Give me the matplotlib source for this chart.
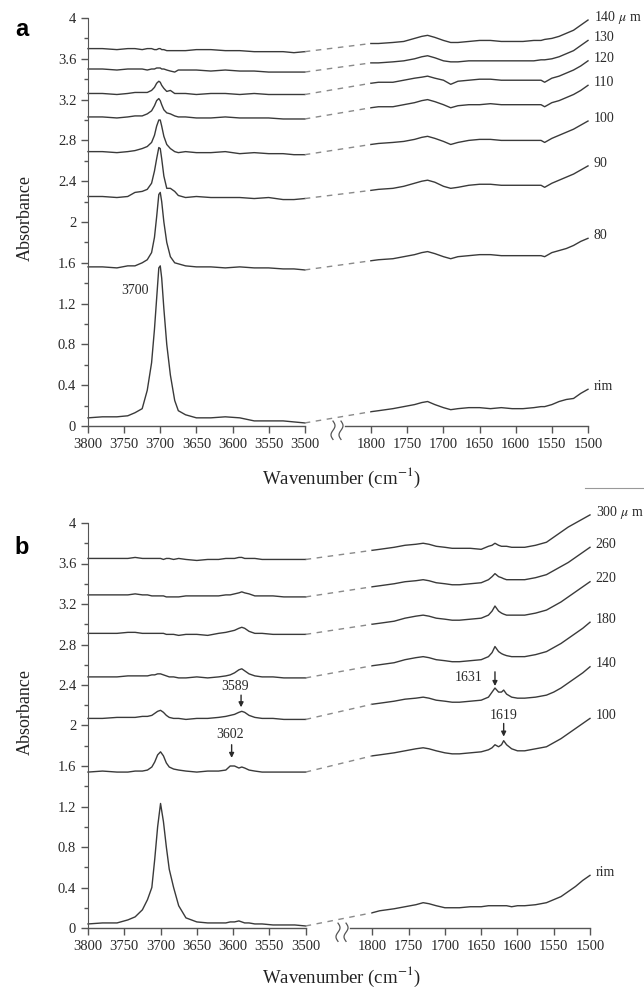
import matplotlib
matplotlib.use('Agg')
import matplotlib.pyplot as plt
from matplotlib.ticker import FixedLocator, MultipleLocator, FuncFormatter
import numpy as np

plt.rcParams['font.family'] = ['Liberation Serif', 'DejaVu Serif']
plt.rcParams['mathtext.fontset'] = 'stix'

# ---------------- panel a data ----------------
wn_left_a = [3800, 3780, 3760, 3745, 3735, 3725, 3718, 3712, 3708, 3705, 3702, 3700, 3698, 3695,
             3691, 3686, 3680, 3675, 3665, 3650, 3630, 3610, 3590, 3570, 3550, 3530, 3515, 3500]
wn_right_a = [1810, 1790, 1770, 1755, 1740, 1730, 1722, 1712, 1700, 1690, 1680, 1665, 1650,
              1635, 1620, 1605, 1590, 1575, 1565, 1560, 1550, 1540, 1530, 1520, 1510, 1500]
labels_a = ['rim', '80', '90', '100', '110', '120', '130', '140 $\\mu$ m']

rim_a_l = [0.08, 0.09, 0.09, 0.10, 0.13, 0.17, 0.35, 0.62, 0.95, 1.25, 1.55, 1.57, 1.45, 1.15,
           0.80, 0.50, 0.25, 0.15, 0.11, 0.08, 0.08, 0.09, 0.08, 0.05, 0.05, 0.05, 0.04, 0.03]
a80_l = [1.56, 1.56, 1.55, 1.57, 1.57, 1.60, 1.63, 1.70, 1.85, 2.05, 2.27, 2.29, 2.20, 2.00,
         1.80, 1.66, 1.60, 1.59, 1.57, 1.56, 1.56, 1.55, 1.56, 1.55, 1.55, 1.54, 1.54, 1.53]
a90_l = [2.25, 2.25, 2.24, 2.25, 2.29, 2.30, 2.32, 2.38, 2.50, 2.62, 2.73, 2.72, 2.62, 2.45,
         2.33, 2.33, 2.30, 2.26, 2.24, 2.25, 2.24, 2.24, 2.24, 2.23, 2.24, 2.22, 2.22, 2.23]
a100_l = [2.69, 2.69, 2.68, 2.69, 2.70, 2.72, 2.74, 2.78, 2.85, 2.94, 3.00, 3.00, 2.94, 2.84,
          2.76, 2.72, 2.69, 2.68, 2.69, 2.68, 2.68, 2.69, 2.67, 2.68, 2.67, 2.67, 2.66, 2.66]
a110_l = [3.03, 3.03, 3.02, 3.03, 3.04, 3.04, 3.06, 3.09, 3.14, 3.19, 3.21, 3.19, 3.15, 3.10,
          3.07, 3.06, 3.04, 3.03, 3.03, 3.02, 3.02, 3.03, 3.02, 3.02, 3.02, 3.01, 3.01, 3.01]
a120_l = [3.26, 3.26, 3.25, 3.26, 3.27, 3.27, 3.27, 3.29, 3.32, 3.36, 3.38, 3.37, 3.34, 3.31,
          3.28, 3.29, 3.26, 3.26, 3.26, 3.25, 3.26, 3.26, 3.25, 3.26, 3.25, 3.25, 3.25, 3.25]
a130_l = [3.50, 3.50, 3.49, 3.50, 3.50, 3.50, 3.49, 3.50, 3.50, 3.51, 3.51, 3.51, 3.50, 3.50,
          3.49, 3.48, 3.47, 3.49, 3.49, 3.49, 3.48, 3.49, 3.48, 3.48, 3.47, 3.47, 3.47, 3.47]
a140_l = [3.70, 3.70, 3.69, 3.70, 3.70, 3.69, 3.70, 3.70, 3.69, 3.69, 3.70, 3.70, 3.69, 3.69,
          3.68, 3.68, 3.68, 3.68, 3.68, 3.69, 3.69, 3.68, 3.68, 3.67, 3.67, 3.67, 3.66, 3.67]

rim_a_r = [0.14, 0.15, 0.17, 0.19, 0.21, 0.23, 0.24, 0.21, 0.18, 0.16, 0.17, 0.18, 0.18,
           0.17, 0.18, 0.17, 0.17, 0.18, 0.19, 0.19, 0.21, 0.24, 0.26, 0.27, 0.32, 0.36]
a80_r = [1.62, 1.63, 1.64, 1.66, 1.68, 1.70, 1.71, 1.69, 1.66, 1.64, 1.66, 1.67, 1.68,
         1.68, 1.67, 1.67, 1.67, 1.67, 1.67, 1.66, 1.70, 1.72, 1.74, 1.77, 1.81, 1.84]
a90_r = [2.31, 2.32, 2.33, 2.35, 2.38, 2.40, 2.41, 2.39, 2.35, 2.33, 2.34, 2.36, 2.37,
         2.37, 2.36, 2.36, 2.36, 2.36, 2.36, 2.34, 2.38, 2.41, 2.44, 2.47, 2.51, 2.55]
a100_r = [2.76, 2.77, 2.78, 2.79, 2.81, 2.83, 2.84, 2.82, 2.79, 2.76, 2.78, 2.80, 2.81,
          2.81, 2.80, 2.80, 2.80, 2.80, 2.80, 2.78, 2.82, 2.85, 2.88, 2.91, 2.95, 2.99]
a110_r = [3.12, 3.13, 3.13, 3.15, 3.17, 3.19, 3.20, 3.18, 3.15, 3.12, 3.14, 3.15, 3.15,
          3.16, 3.15, 3.15, 3.15, 3.15, 3.15, 3.13, 3.17, 3.19, 3.22, 3.25, 3.29, 3.34]
a120_r = [3.36, 3.37, 3.37, 3.39, 3.41, 3.42, 3.43, 3.41, 3.39, 3.35, 3.38, 3.39, 3.40,
          3.40, 3.39, 3.39, 3.39, 3.39, 3.39, 3.37, 3.41, 3.43, 3.46, 3.49, 3.53, 3.58]
a130_r = [3.56, 3.56, 3.57, 3.58, 3.60, 3.62, 3.63, 3.61, 3.58, 3.57, 3.57, 3.58, 3.58,
          3.58, 3.58, 3.58, 3.58, 3.58, 3.59, 3.59, 3.60, 3.62, 3.65, 3.68, 3.73, 3.78]
a140_r = [3.75, 3.75, 3.76, 3.77, 3.80, 3.82, 3.83, 3.81, 3.78, 3.76, 3.76, 3.77, 3.78,
          3.78, 3.77, 3.77, 3.77, 3.78, 3.78, 3.79, 3.80, 3.82, 3.85, 3.88, 3.93, 3.98]

# ---------------- panel b data ----------------
wn_left_b = [3800, 3780, 3760, 3745, 3735, 3725, 3718, 3712, 3708, 3704, 3700, 3696, 3692, 3688,
             3682, 3675, 3665, 3650, 3635, 3620, 3610, 3604, 3598, 3592, 3588, 3584, 3578, 3570,
             3560, 3545, 3530, 3515, 3500]
wn_right_b = [1808, 1790, 1770, 1755, 1740, 1730, 1722, 1712, 1700, 1690, 1680, 1665, 1650, 1640,
              1635, 1631, 1626, 1622, 1619, 1615, 1608, 1600, 1590, 1575, 1560, 1550, 1540, 1530,
              1520, 1510, 1500]
labels_b = ['rim', '100', '140', '180', '220', '260', '300 $\\mu$ m']

rim_b_l = [0.04, 0.05, 0.05, 0.08, 0.11, 0.18, 0.28, 0.40, 0.68, 1.00, 1.23, 1.05, 0.80, 0.58,
           0.40, 0.22, 0.10, 0.06, 0.05, 0.05, 0.05, 0.06, 0.06, 0.07, 0.06, 0.05, 0.05, 0.04,
           0.04, 0.03, 0.03, 0.03, 0.02]
b100_l = [1.54, 1.55, 1.54, 1.54, 1.55, 1.55, 1.56, 1.59, 1.64, 1.71, 1.74, 1.70, 1.63, 1.59,
          1.57, 1.56, 1.55, 1.54, 1.55, 1.55, 1.56, 1.60, 1.60, 1.58, 1.59, 1.58, 1.56, 1.55,
          1.54, 1.54, 1.54, 1.54, 1.54]
b140_l = [2.07, 2.07, 2.08, 2.08, 2.08, 2.09, 2.09, 2.10, 2.12, 2.14, 2.15, 2.13, 2.10, 2.08,
          2.07, 2.07, 2.06, 2.07, 2.07, 2.08, 2.09, 2.10, 2.11, 2.13, 2.14, 2.13, 2.10, 2.08,
          2.07, 2.07, 2.06, 2.06, 2.06]
b180_l = [2.48, 2.48, 2.48, 2.49, 2.49, 2.49, 2.49, 2.50, 2.50, 2.51, 2.51, 2.50, 2.49, 2.48,
          2.48, 2.47, 2.47, 2.48, 2.47, 2.48, 2.49, 2.50, 2.52, 2.55, 2.56, 2.54, 2.51, 2.49,
          2.48, 2.48, 2.47, 2.47, 2.47]
b220_l = [2.91, 2.91, 2.91, 2.92, 2.92, 2.91, 2.91, 2.91, 2.91, 2.91, 2.91, 2.91, 2.90, 2.90,
          2.90, 2.89, 2.90, 2.90, 2.89, 2.91, 2.92, 2.93, 2.94, 2.96, 2.97, 2.96, 2.93, 2.91,
          2.91, 2.90, 2.90, 2.90, 2.90]
b260_l = [3.29, 3.29, 3.29, 3.29, 3.30, 3.29, 3.29, 3.28, 3.28, 3.28, 3.28, 3.28, 3.27, 3.27,
          3.27, 3.27, 3.28, 3.28, 3.28, 3.28, 3.29, 3.29, 3.30, 3.31, 3.32, 3.31, 3.30, 3.28,
          3.28, 3.28, 3.27, 3.27, 3.27]
b300_l = [3.65, 3.65, 3.65, 3.65, 3.66, 3.65, 3.65, 3.65, 3.65, 3.65, 3.65, 3.64, 3.65, 3.65,
          3.64, 3.65, 3.64, 3.63, 3.64, 3.64, 3.65, 3.65, 3.65, 3.66, 3.66, 3.65, 3.65, 3.65,
          3.64, 3.64, 3.64, 3.64, 3.64]

rim_b_r = [0.15, 0.17, 0.19, 0.21, 0.23, 0.25, 0.24, 0.22, 0.20, 0.20, 0.20, 0.21, 0.21, 0.22,
           0.22, 0.22, 0.22, 0.22, 0.22, 0.22, 0.21, 0.22, 0.22, 0.23, 0.25, 0.28, 0.31, 0.36,
           0.41, 0.47, 0.52]
b100_r = [1.70, 1.71, 1.73, 1.75, 1.77, 1.78, 1.77, 1.75, 1.73, 1.72, 1.72, 1.73, 1.74, 1.76,
          1.78, 1.81, 1.79, 1.81, 1.85, 1.81, 1.77, 1.75, 1.75, 1.77, 1.79, 1.83, 1.87, 1.92,
          1.97, 2.02, 2.07]
b140_r = [2.21, 2.22, 2.24, 2.26, 2.27, 2.28, 2.27, 2.25, 2.24, 2.23, 2.23, 2.24, 2.25, 2.28,
          2.33, 2.37, 2.33, 2.33, 2.35, 2.31, 2.28, 2.27, 2.27, 2.28, 2.30, 2.33, 2.37, 2.42,
          2.47, 2.52, 2.58]
b180_r = [2.59, 2.60, 2.62, 2.65, 2.67, 2.68, 2.67, 2.65, 2.64, 2.63, 2.63, 2.64, 2.65, 2.68,
          2.72, 2.78, 2.73, 2.71, 2.70, 2.69, 2.68, 2.68, 2.68, 2.70, 2.73, 2.77, 2.81, 2.86,
          2.91, 2.96, 3.02]
b220_r = [3.00, 3.01, 3.03, 3.06, 3.08, 3.09, 3.08, 3.06, 3.05, 3.04, 3.04, 3.05, 3.06, 3.09,
          3.13, 3.18, 3.13, 3.11, 3.10, 3.09, 3.09, 3.09, 3.09, 3.11, 3.14, 3.18, 3.22, 3.27,
          3.32, 3.37, 3.42]
b260_r = [3.37, 3.38, 3.40, 3.42, 3.43, 3.44, 3.43, 3.41, 3.40, 3.39, 3.39, 3.40, 3.41, 3.44,
          3.47, 3.50, 3.47, 3.46, 3.45, 3.44, 3.44, 3.44, 3.44, 3.46, 3.49, 3.53, 3.57, 3.61,
          3.66, 3.71, 3.76]
b300_r = [3.73, 3.74, 3.76, 3.78, 3.79, 3.80, 3.79, 3.77, 3.76, 3.75, 3.75, 3.75, 3.74, 3.77,
          3.78, 3.80, 3.78, 3.77, 3.77, 3.77, 3.76, 3.76, 3.76, 3.78, 3.81, 3.86, 3.91, 3.96,
          4.00, 4.04, 4.08]

xticks = [3800, 3750, 3700, 3650, 3600, 3550, 3500, 1800, 1750, 1700, 1650, 1600, 1550, 1500]

LINE = '#3a3a3a'
DASH = '#8a8a8a'
AXC = '#555555'

# broken wavenumber axis: 3800-3500 | gap | 1800-1500
GAP = 92.0


def fwd(w):
    w = np.asarray(w, dtype=float)
    return np.where(w <= 1800, w - 1500,
                    np.where(w >= 3500, 300 + GAP + (w - 3500),
                             300 + (w - 1800) / 1700 * GAP))


def inv(u):
    u = np.asarray(u, dtype=float)
    return np.where(u <= 300, u + 1500,
                    np.where(u >= 300 + GAP, u - 300 - GAP + 3500,
                             1800 + (u - 300) / GAP * 1700))


def setup(ax, right_start):
    ax.set_xscale('function', functions=(fwd, inv))
    ax.set_xlim(3800, 1500)
    ax.set_ylim(0, 4)
    for s in ['top', 'right', 'bottom']:
        ax.spines[s].set_visible(False)
    ax.spines['left'].set_color(AXC)
    ax.xaxis.set_major_locator(FixedLocator(xticks))
    ax.xaxis.set_major_formatter(FuncFormatter(lambda v, p: '%d' % round(v)))
    ax.xaxis.set_minor_locator(FixedLocator([]))
    ax.yaxis.set_major_locator(MultipleLocator(0.4))
    ax.yaxis.set_minor_locator(MultipleLocator(0.2))
    ax.yaxis.set_major_formatter(FuncFormatter(lambda v, p: '%g' % round(v, 1)))
    ax.tick_params(direction='out', length=5, width=1, color=AXC, labelsize=10.5,
                   labelcolor='#2a2a2a')
    ax.tick_params(which='minor', length=3, width=1, color=AXC)
    # bottom axis pieces and the break mark
    x3500 = (fwd(3800) - fwd(3500)) / fwd(3800)
    ax.plot([0, x3500], [0, 0], transform=ax.transAxes, color=AXC, lw=1, clip_on=False)
    ax.plot([right_start, 1], [0, 0], transform=ax.transAxes, color=AXC, lw=1, clip_on=False)
    t = np.linspace(0, 1, 40)
    for x0 in [right_start - 0.024, right_start - 0.008]:
        ax.plot(x0 + 0.004 * np.sin(2 * np.pi * t), 0.012 - 0.045 * t,
                transform=ax.transAxes, color=AXC, lw=0.9, clip_on=False)


def draw(ax, wl, wr, lefts, rights, labels):
    for yl, yr, lab in zip(lefts, rights, labels):
        ax.plot(wl, yl, color=LINE, lw=1.0, clip_on=False)
        ax.plot(wr, yr, color=LINE, lw=1.0, clip_on=False)
        ax.plot([wl[-1], wr[0]], [yl[-1], yr[0]], color=DASH, lw=1.0, ls=(0, (4, 4)))
        ax.annotate(lab, (wr[-1], yr[-1]), xytext=(4, 2), textcoords='offset points',
                    ha='left', va='center', fontsize=10, color='#2a2a2a',
                    annotation_clip=False)


fig = plt.figure(figsize=(6.44, 9.97), dpi=100)
ax_a = fig.add_axes([88 / 644, 1 - 426 / 997, 500 / 644, 408 / 997])
ax_b = fig.add_axes([88 / 644, 1 - 928 / 997, 502 / 644, 405 / 997])
setup(ax_a, 0.514)
setup(ax_b, 0.522)

draw(ax_a, wn_left_a, wn_right_a,
     [rim_a_l, a80_l, a90_l, a100_l, a110_l, a120_l, a130_l, a140_l],
     [rim_a_r, a80_r, a90_r, a100_r, a110_r, a120_r, a130_r, a140_r], labels_a)
draw(ax_b, wn_left_b, wn_right_b,
     [rim_b_l, b100_l, b140_l, b180_l, b220_l, b260_l, b300_l],
     [rim_b_r, b100_r, b140_r, b180_r, b220_r, b260_r, b300_r], labels_b)

# peak annotations
ax_a.text(3735, 1.33, '3700', ha='center', va='center', fontsize=10, color='#2a2a2a')
arrow = dict(arrowstyle='-|>', color='#2a2a2a', lw=1, mutation_scale=7, shrinkA=0, shrinkB=0)
ax_b.text(3597, 2.39, '3589', ha='center', va='center', fontsize=10, color='#2a2a2a')
ax_b.annotate('', xy=(3589, 2.18), xytext=(3589, 2.30), arrowprops=arrow)
ax_b.text(3604, 1.91, '3602', ha='center', va='center', fontsize=10, color='#2a2a2a')
ax_b.annotate('', xy=(3602, 1.68), xytext=(3602, 1.81), arrowprops=arrow)
ax_b.text(1668, 2.47, '1631', ha='center', va='center', fontsize=10, color='#2a2a2a')
ax_b.annotate('', xy=(1631, 2.39), xytext=(1631, 2.53), arrowprops=arrow)
ax_b.text(1619, 2.10, '1619', ha='center', va='center', fontsize=10, color='#2a2a2a')
ax_b.annotate('', xy=(1619, 1.89), xytext=(1619, 2.02), arrowprops=arrow)

# axis titles and panel letters
for yc, yw, letter, yl in [(218, 478, 'a', 30), (712, 977, 'b', 548)]:
    fig.text(25 / 644, 1 - yc / 997, 'Absorbance', rotation=90, ha='center', va='center',
             fontsize=13, color='#222222')
    fig.text(341 / 644, 1 - yw / 997, 'Wavenumber (cm$^{-1}$)', ha='center', va='center',
             fontsize=13.5, color='#222222')
    fig.text(22 / 644, 1 - yl / 997, letter, ha='center', va='center', fontsize=17,
             fontweight='bold', family='Liberation Sans')

# stray rule at the top right of panel b
fig.add_artist(plt.Line2D([585 / 644, 1.0], [1 - 488 / 997] * 2, color='#999999', lw=0.8))

fig.savefig('out.png', dpi=100)
